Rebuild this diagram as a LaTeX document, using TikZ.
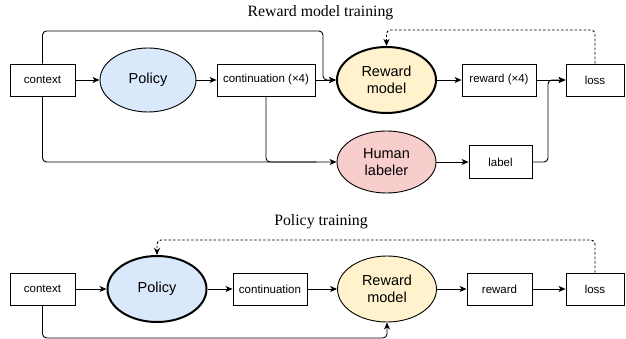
\documentclass[tikz,border=0pt]{standalone}
\usepackage{fontspec}
\setmainfont{Liberation Serif}
\newfontfamily\boxfont{Liberation Sans}
\usetikzlibrary{shapes.geometric,arrows.meta,calc}

\definecolor{policyblue}{HTML}{DAE8FC}
\definecolor{rewardyellow}{HTML}{FFF2CC}
\definecolor{humanred}{HTML}{F8CECC}

\tikzset{
  box/.style={draw, line width=0.9pt, rectangle, inner sep=0pt, minimum height=32pt,
    font=\boxfont\fontsize{11.5}{13}\selectfont},
  blob/.style={draw, line width=0.9pt, ellipse, inner sep=0pt, align=center,
    font=\boxfont\fontsize{14.5}{17}\selectfont},
  trained/.style={line width=2pt},
  title/.style={font=\fontsize{15.8}{18}\selectfont},
  flow/.style={line width=0.9pt, rounded corners=4pt, -{Stealth[length=7pt,width=6pt,inset=2pt]}},
  plain/.style={line width=0.9pt, rounded corners=4pt},
  feedback/.style={line width=0.9pt, rounded corners=4pt, dash pattern=on 2.5pt off 2pt,
    -{Stealth[length=7pt,width=6pt,inset=2pt]}},
}

\begin{document}
\begin{tikzpicture}[x=1pt,y=-1pt]
\useasboundingbox (0,0) rectangle (626,339);

% ---------- Reward model training ----------
\node[title] (t1) at (320.5,13) {Reward model training};

\node[box, minimum width=65pt] (ctx1) at (42.5,80) {context};
\node[blob, fill=policyblue, minimum width=96pt, minimum height=64pt] (pol1) at (148,80) {Policy};
\node[box, minimum width=98pt] (cont1) at (266,80) {continuation (×4)};
\node[blob, trained, fill=rewardyellow, minimum width=99pt, minimum height=66pt] (rm1) at (386.5,80) {Reward\\model};
\node[box, minimum width=74pt] (rew1) at (499,80) {reward (×4)};
\node[box, minimum width=58pt] (loss1) at (595,80) {loss};
\node[blob, fill=humanred, minimum width=99pt, minimum height=62pt] (hl) at (386.5,162) {Human\\labeler};
\node[box, minimum width=63pt, minimum height=33pt] (lab) at (500.5,162) {label};

\coordinate (j1) at (323,31);
\coordinate (j2) at (548,0);

\draw[flow] (ctx1) -- (pol1);
\draw[flow] (pol1) -- (cont1);
\draw[flow] (cont1) -- (rm1);
\draw[flow] (ctx1.north) |- (j1) -- (j1 |- rm1.west) -- (rm1.west);
\draw[flow] (ctx1.south) |- (hl.west);
\draw[plain] (cont1.south) |- ($(hl.west)+(-20,0)$);
\draw[flow] (rm1) -- (rew1);
\draw[flow] (rew1) -- (loss1);
\draw[flow] (hl) -- (lab);
\draw[flow] (lab.east) -- (lab.east -| j2) |- (loss1.west);
\draw[feedback] (loss1.north) |- ($(rm1.north)+(0,-16)$) -- (rm1.north);

% ---------- Policy training ----------
\node[title] (t2) at (321,222) {Policy training};

\node[box, minimum width=65pt] (ctx2) at (42.5,289) {context};
\node[blob, trained, fill=policyblue, minimum width=99pt, minimum height=66pt] (pol2) at (157,289) {Policy};
\node[box, minimum width=74pt] (cont2) at (270,289) {continuation};
\node[blob, fill=rewardyellow, minimum width=99pt, minimum height=66pt] (rm2) at (387,289) {Reward\\model};
\node[box, minimum width=65pt] (rew2) at (499.5,289) {reward};
\node[box, minimum width=58pt] (loss2) at (595,289) {loss};

\draw[flow] (ctx2) -- (pol2);
\draw[flow] (pol2) -- (cont2);
\draw[flow] (cont2) -- (rm2);
\draw[flow] (rm2) -- (rew2);
\draw[flow] (rew2) -- (loss2);
\draw[flow] (ctx2.south) |- ($(rm2.south)+(0,15.5)$) -- (rm2.south);
\draw[feedback] (loss2.north) |- ($(pol2.north)+(0,-15)$) -- (pol2.north);
\end{tikzpicture}
\end{document}
